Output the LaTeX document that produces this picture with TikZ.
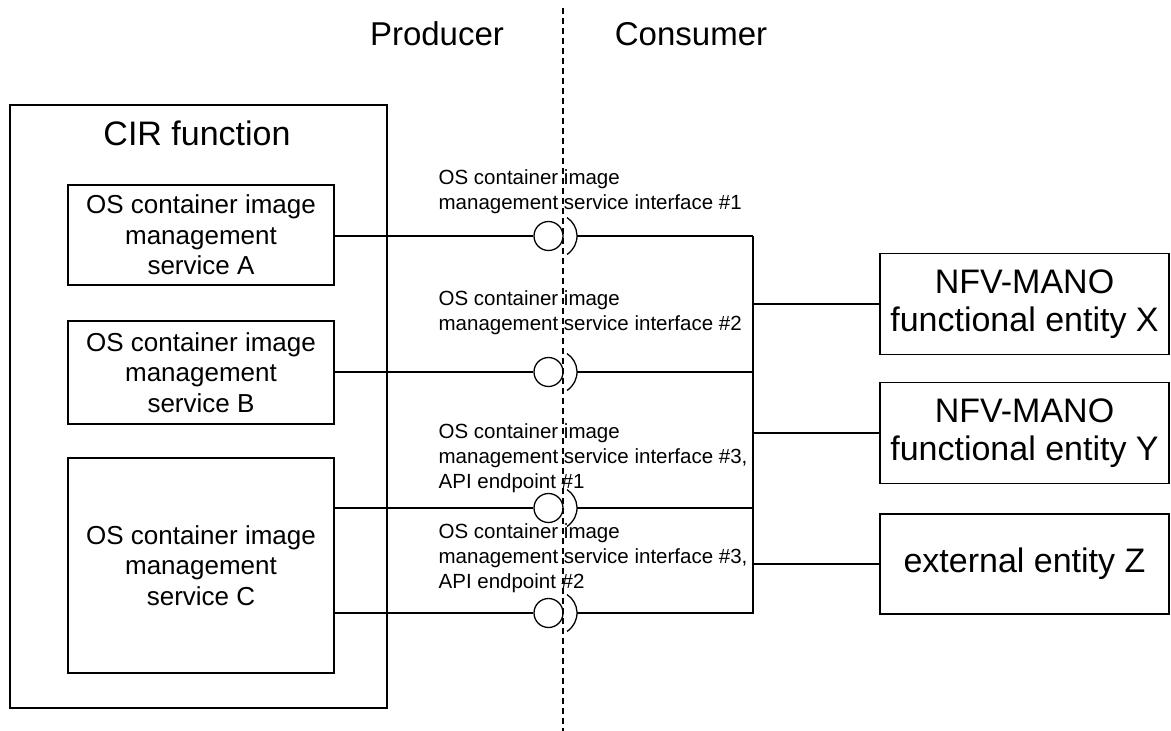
\documentclass[tikz,border=0pt]{standalone}
\usepackage{fontspec}
\setmainfont{Liberation Sans}
\begin{document}
\begin{tikzpicture}[x=1pt,y=-1pt,line width=1.3pt,
  box/.style={draw,rectangle,inner sep=0pt,align=center},
  svc/.style={box,minimum width=266pt,font=\fontsize{26}{30.5}\selectfont},
  ent/.style={box,minimum width=289pt,minimum height=101pt,font=\fontsize{34}{38}\selectfont},
  ball/.style={draw,circle,minimum size=29pt,inner sep=0pt},
  iflabel/.style={anchor=north west,inner sep=0pt,align=left,font=\fontsize{20.5}{25}\selectfont},
  side/.style={anchor=base,inner sep=0pt,font=\fontsize{33}{38}\selectfont}]
\useasboundingbox (0,0) rectangle (1171,731);

% side titles
\node[side] (prod) at (437,45) {Producer};
\node[side] (cons) at (691,45) {Consumer};

% CIR function
\node[box,minimum width=377pt,minimum height=603pt] (cir) at (198.5,406.5) {};
\node[anchor=base,inner sep=0pt,font=\fontsize{34}{38}\selectfont] (cirt) at (197,145) {CIR function};

\node[svc,minimum height=100pt] (sA) at (201,235) {OS container image\\management\\service A};
\node[svc,minimum height=103pt] (sB) at (201,372.5) {OS container image\\management\\service B};
\node[svc,minimum height=215pt] (sC) at (201,565.5) {OS container image\\management\\service C};

% entities
\node[ent] (X) at (1024.5,304) {NFV-MANO\\functional entity X};
\node[ent] (Y) at (1024.5,433) {NFV-MANO\\functional entity Y};
\node[ent,minimum height=100pt] (Z) at (1024.5,564) {external entity Z};

% balls
\node[ball] (b1) at (548.5,236) {};
\node[ball] (b2) at (548.5,372) {};
\node[ball] (b3) at (548.5,508) {};
\node[ball] (b4) at (548.5,613) {};

% sockets and right joints
\foreach \i in {1,2,3,4}{
  \draw (b\i.center) ++(6.5,0) ++(-57:22pt) arc[start angle=-57,end angle=57,radius=22pt];
  \coordinate (s\i) at ([xshift=28.5pt]b\i.center);
  \coordinate (j\i) at ([xshift=204.5pt]b\i.center);
}

% connectors producer side
\draw (sA.east |- b1) -- (b1.west);
\draw (sB.east |- b2) -- (b2.west);
\draw (sC.east |- b3) -- (b3.west);
\draw (sC.east |- b4) -- (b4.west);

% consumer side
\draw (s1) -- (j1);
\draw (s2) -- (j2);
\draw (s3) -- (j3);
\draw (s4) -- (j4) -- (j1);
\draw (X.west -| j1) -- (X.west);
\draw (Y.west -| j1) -- (Y.west);
\draw (Z.west -| j1) -- (Z.west);

% interface labels
\node[iflabel] (l1) at (438,168.5) {OS container image\\management service interface \#1};
\node[iflabel] (l2) at (438,289.5) {OS container image\\management service interface \#2};
\node[iflabel] (l3) at (438,422.5) {OS container image\\management service interface \#3,\\API endpoint \#1};
\node[iflabel] (l4) at (438,522.5) {OS container image\\management service interface \#3,\\API endpoint \#2};

% producer / consumer divider
\coordinate (dtop) at (563,8);
\coordinate (dbot) at (563,731);
\draw[dash pattern=on 6pt off 4pt] (dtop) -- (dbot);
\end{tikzpicture}
\end{document}
